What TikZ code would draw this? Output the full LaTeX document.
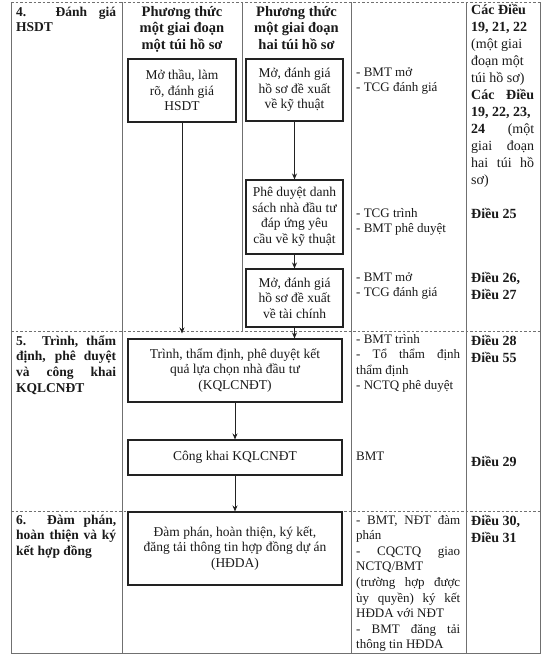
\documentclass[tikz,border=0pt]{standalone}
\usepackage{fontspec}
\setmainfont{Liberation Serif}
\usetikzlibrary{arrows.meta}
\definecolor{gridc}{HTML}{707070}
\definecolor{boxc}{HTML}{222222}
\definecolor{txt}{HTML}{1A1A1A}
\newcommand\colL[1]{\vtop{\lineskiplimit=-20pt\lineskip=0pt\halign{##\hfil\cr#1\crcr}}}
\newcommand\colC[1]{\vtop{\lineskiplimit=-20pt\lineskip=0pt\halign{\hfil##\hfil\cr#1\crcr}}}
\newcommand\js[2]{\makebox[#1][s]{#2}}
\tikzset{
  gridline/.style={draw=gridc, line width=0.8pt},
  rowsep/.style={draw=gridc, line width=0.8pt, dash pattern=on 2.5pt off 2pt},
  box/.style={draw=boxc, line width=1.1pt, inner sep=0pt, align=center, text=txt,
    font=\fontsize{13.5}{15.5}\selectfont},
  arr/.style={draw=boxc, line width=1pt, -{Stealth[length=6pt,width=5pt]}},
  cone/.style={anchor=base west, inner sep=0pt, text=txt, font=\bfseries\fontsize{13.5}{15.7}\selectfont},
  hd/.style={anchor=base, inner sep=0pt, text=txt, font=\bfseries\fontsize{14.5}{16.5}\selectfont},
  cthree/.style={anchor=base west, inner sep=0pt, text=txt, font=\fontsize{13}{15.6}\selectfont},
  cfour/.style={anchor=base west, inner sep=0pt, text=txt, font=\fontsize{14}{17}\selectfont},
  cfourb/.style={cfour, font=\bfseries\fontsize{14}{17}\selectfont},
}
\begin{document}
\begin{tikzpicture}[x=1pt,y=-1pt]
\useasboundingbox[fill=white] (0,0) rectangle (550,659);
% table frame
\path[rowsep] (11,2) -- (540,2);
\path[rowsep] (11,331) -- (540,331);
\path[rowsep] (11,511) -- (540,511);
\path[gridline] (11,2) -- (11,653) -- (540,653) -- (540,2);
\path[gridline] (122,2) -- (122,653);
\path[gridline] (242,2) -- (242,331);
\path[gridline] (351,2) -- (351,653);
\path[gridline] (466,2) -- (466,653);
% column 1
\node[cone] (r4) at (16,16) {\colL{\js{100pt}{4. Đánh giá}\cr HSDT}};
\node[cone] (r5) at (16,345) {\colL{\js{100pt}{5. Trình, thẩm}\cr \js{100pt}{định, phê duyệt}\cr \js{100pt}{và công khai}\cr KQLCNĐT}};
\node[cone] (r6) at (16,524) {\colL{\js{100pt}{6. Đàm phán,}\cr \js{100pt}{hoàn thiện và ký}\cr kết hợp đồng}};
% headers
\node[hd] (h1) at (182,16) {\colC{Phương thức\cr một giai đoạn\cr một túi hồ sơ}};
\node[hd] (h2) at (296.5,16) {\colC{Phương thức\cr một giai đoạn\cr hai túi hồ sơ}};
% boxes
\node[box, minimum width=108pt, minimum height=63pt] (A) at (182,90.5) {Mở thầu, làm\\rõ, đánh giá\\HSDT};
\node[box, minimum width=97pt, minimum height=62pt] (B) at (294.5,90) {Mở, đánh giá\\hồ sơ đề xuất\\về kỹ thuật};
\node[box, minimum width=97pt, minimum height=74pt] (C) at (294.5,217) {Phê duyệt danh\\sách nhà đầu tư\\đáp ứng yêu\\cầu về kỹ thuật};
\node[box, minimum width=97pt, minimum height=58pt] (D) at (294.5,298) {Mở, đánh giá\\hồ sơ đề xuất\\về tài chính};
\node[box, minimum width=214pt, minimum height=63pt] (E) at (235,370.5) {Trình, thẩm định, phê duyệt kết\\quả lựa chọn nhà đầu tư\\(KQLCNĐT)};
\node[box, minimum width=214pt, minimum height=35pt] (F) at (235,457.5) {Công khai KQLCNĐT};
\node[box, minimum width=214pt, minimum height=73pt] (G) at (235,548.5) {Đàm phán, hoàn thiện, ký kết,\\đăng tải thông tin hợp đồng dự án\\(HĐDA)};
% arrows
\draw[arr, shorten >=5pt] (A.south) -- (A.south |- E.north);
\draw[arr] (B.south) -- (C.north);
\draw[arr] (C.south) -- (D.north);
\draw[arr] (D.south) -- (D.south |- E.north);
\draw[arr] (E.south) -- (F.north);
\draw[arr] (F.south) -- (G.north);
% column 3
\node[cthree] (t4a) at (356,76) {\colL{- BMT mở\cr - TCG đánh giá}};
\node[cthree] (t4b) at (356,217) {\colL{- TCG trình\cr - BMT phê duyệt}};
\node[cthree] (t4c) at (356,281) {\colL{- BMT mở\cr - TCG đánh giá}};
\node[cthree] (t5a) at (356,343) {\colL{- BMT trình\cr \js{104pt}{- Tổ thẩm định}\cr thẩm định\cr - NCTQ phê duyệt}};
\node[cthree] (t5b) at (356,460) {BMT};
\node[cthree] (t6) at (356,524) {\colL{\js{104pt}{- BMT, NĐT đàm}\cr phán\cr \js{104pt}{- CQCTQ giao}\cr NCTQ/BMT\cr \js{104pt}{(trường hợp được}\cr \js{104pt}{ùy quyền) ký kết}\cr HĐDA với NĐT\cr \js{104pt}{- BMT đăng tải}\cr thông tin HĐDA}};
% column 4
\node[cfour] (d4) at (471,14.5) {\colL{\textbf{Các Điều}\cr \textbf{19, 21, 22}\cr (một giai\cr đoạn một\cr túi hồ sơ)\cr \js{63pt}{\bfseries Các Điều}\cr \textbf{19, 22, 23,}\cr \js{63pt}{\textbf{24} (một}\cr \js{63pt}{giai đoạn}\cr \js{63pt}{hai túi hồ}\cr sơ)}};
\node[cfourb] (d25) at (471,218) {Điều 25};
\node[cfourb] (d26) at (471,282) {\colL{Điều 26,\cr Điều 27}};
\node[cfourb] (d28) at (471,345) {\colL{Điều 28\cr Điều 55}};
\node[cfourb] (d29) at (471,466) {Điều 29};
\node[cfourb] (d30) at (471,525) {\colL{Điều 30,\cr Điều 31}};
\end{tikzpicture}
\end{document}
